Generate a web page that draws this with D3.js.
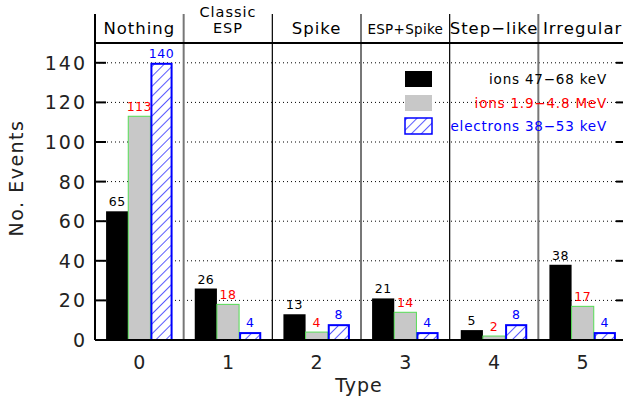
<!DOCTYPE html>
<html><head><meta charset="utf-8">
<script src="https://cdn.jsdelivr.net/npm/d3@7"></script>
<style>body{margin:0;background:#fff}svg{display:block}text{font-family:"DejaVu Sans",sans-serif}</style>
</head><body><svg id="c" width="623" height="400"></svg>
<script>
const types = [0, 1, 2, 3, 4, 5];
const typeNames = [["Nothing"], ["Classic", "ESP"], ["Spike"], ["ESP+Spike"], ["Step\u2212like"], ["Irregular"]];
const ionsLow = [65, 26, 13, 21, 5, 38];
const ionsHigh = [113, 18, 4, 14, 2, 17];
const electrons = [140, 4, 8, 4, 8, 4];
const yTicks = [0, 20, 40, 60, 80, 100, 120, 140];
const seriesNames = ["ions 47\u221268 keV", "ions 1.9\u22124.8 MeV", "electrons 38\u221253 keV"];

const svg = d3.select("#c");
const L = 95, R = 627, T = 43, B = 340, HT = 14;
const x = d3.scaleLinear().domain([-0.5, 5.5]).range([L, R]);
const y = d3.scaleLinear().domain([0, 150]).range([B, T]);

const defs = svg.append("defs");
const pat = defs.append("pattern").attr("id", "hatch").attr("patternUnits", "userSpaceOnUse")
  .attr("width", 7).attr("height", 7).attr("patternTransform", "rotate(45)");
pat.append("line").attr("x1", 0).attr("y1", 0).attr("x2", 0).attr("y2", 7)
  .attr("stroke", "#00f").attr("stroke-width", 1.3);

// gridlines
svg.append("g").selectAll("line").data(yTicks.filter(d => d > 0)).join("line")
  .attr("x1", L).attr("x2", R).attr("y1", d => y(d)).attr("y2", d => y(d))
  .attr("stroke", "#000").attr("stroke-width", 1).attr("stroke-dasharray", "1,3");

// separators
svg.append("g").selectAll("line").data([1, 2, 3, 4, 5]).join("line")
  .attr("x1", d => x(d - 0.5)).attr("x2", d => x(d - 0.5)).attr("y1", HT).attr("y2", B)
  .attr("stroke", (d, i) => i % 2 === 0 ? "#777" : "#000").attr("stroke-width", (d, i) => i % 2 === 0 ? 2 : 1.2);

const bw = 0.25;
const series = [
  {vals: ionsLow, off: -0.25, fill: "#000", stroke: "none", col: "#000"},
  {vals: ionsHigh, off: 0, fill: "#c8c8c8", stroke: "#5d5", col: "#f00"},
  {vals: electrons, off: 0.25, fill: "url(#hatch)", stroke: "#00f", col: "#00f"}
];
series.forEach((s, si) => {
  const g = svg.append("g");
  if (si === 2) {
    g.selectAll("rect").data(types).join("rect")
      .attr("x", d => x(d + s.off - bw / 2) + 1).attr("width", x(bw) - x(0) - 2)
      .attr("y", d => y(s.vals[d]) + 1).attr("height", d => y(0) - y(s.vals[d]) - 1)
      .attr("fill", "#fff");
    g.selectAll("rect.h").data(types).join("rect").attr("class", "h")
      .attr("x", d => x(d + s.off - bw / 2) + 1).attr("width", x(bw) - x(0) - 2)
      .attr("y", d => y(s.vals[d]) + 1).attr("height", d => y(0) - y(s.vals[d]) - 1)
      .attr("fill", "url(#hatch)").attr("stroke", "#00f").attr("stroke-width", 2);
  } else {
    g.selectAll("rect").data(types).join("rect")
      .attr("x", d => x(d + s.off - bw / 2))
      .attr("width", x(bw) - x(0))
      .attr("y", d => y(s.vals[d]))
      .attr("height", d => y(0) - y(s.vals[d]))
      .attr("fill", s.fill)
      .attr("stroke", s.stroke).attr("stroke-width", 1);
  }
  g.selectAll("text").data(types).join("text")
    .attr("x", d => x(d + s.off)).attr("y", d => y(s.vals[d]) - 5)
    .attr("text-anchor", "middle").attr("font-size", 12.5).attr("fill", s.col)
    .attr("letter-spacing", 0.5)
    .text(d => s.vals[d]);
});

// frame lines
svg.append("line").attr("x1", L).attr("x2", R).attr("y1", B).attr("y2", B).attr("stroke", "#000").attr("stroke-width", 2);
svg.append("line").attr("x1", L).attr("x2", R).attr("y1", T).attr("y2", T).attr("stroke", "#000").attr("stroke-width", 2);
svg.append("line").attr("x1", L).attr("x2", L).attr("y1", HT).attr("y2", B).attr("stroke", "#000").attr("stroke-width", 2);

// y axis ticks
const yg = svg.append("g");
yg.selectAll("line.l").data(yTicks).join("line").attr("class", "l")
  .attr("x1", L).attr("x2", L + 11).attr("y1", d => y(d)).attr("y2", d => y(d))
  .attr("stroke", "#000").attr("stroke-width", 2);
yg.selectAll("line.r").data(yTicks).join("line").attr("class", "r")
  .attr("x1", R - 11).attr("x2", R).attr("y1", d => y(d)).attr("y2", d => y(d))
  .attr("stroke", "#000").attr("stroke-width", 2);
yg.selectAll("text").data(yTicks).join("text")
  .attr("x", 87).attr("y", d => y(d) + 7).attr("text-anchor", "end")
  .attr("font-size", 19).attr("letter-spacing", 2).attr("fill", "#222")
  .text(d => d);

// x tick labels
svg.append("g").selectAll("text").data(types).join("text")
  .attr("x", d => x(d)).attr("y", 369).attr("text-anchor", "middle")
  .attr("font-size", 19).attr("fill", "#222").text(d => d);
svg.append("text").attr("x", (L + R) / 2 - 2).attr("y", 392).attr("text-anchor", "middle")
  .attr("font-size", 19).attr("letter-spacing", 1).attr("fill", "#222").text("Type");
svg.append("text").attr("transform", "translate(23," + 178 + ") rotate(-90)")
  .attr("text-anchor", "middle").attr("font-size", 19).attr("letter-spacing", 1.5).attr("fill", "#222")
  .text("No. Events");

// header labels
const hg = svg.append("g");
types.forEach(d => {
  const lines = typeNames[d];
  const fs = d === 3 ? 13.5 : (lines.length > 1 ? 14.5 : 16.5);
  lines.forEach((t, i) => {
    hg.append("text").attr("x", x(d)).attr("y", lines.length === 1 ? 34 : 17 + i * 16)
      .attr("text-anchor", "middle").attr("font-size", fs)
      .attr("letter-spacing", d === 3 ? 0.3 : 1).attr("fill", "#000").text(t);
  });
});

// legend
const lg = svg.append("g");
const ly = [79, 103, 126];
const lfill = ["#000", "#c8c8c8", "url(#hatch)"];
const lcol = ["#000", "#f00", "#00f"];
ly.forEach((yy, i) => {
  lg.append("rect").attr("x", 405).attr("y", yy - 8).attr("width", 27).attr("height", 16)
    .attr("fill", lfill[i]).attr("stroke", i === 2 ? "#00f" : "none").attr("stroke-width", 1.5);
  lg.append("text").attr("x", 607).attr("y", yy + 5).attr("text-anchor", "end")
    .attr("font-size", 13.5).attr("letter-spacing", 0.8).attr("fill", lcol[i]).text(seriesNames[i]);
});
</script></body></html>
